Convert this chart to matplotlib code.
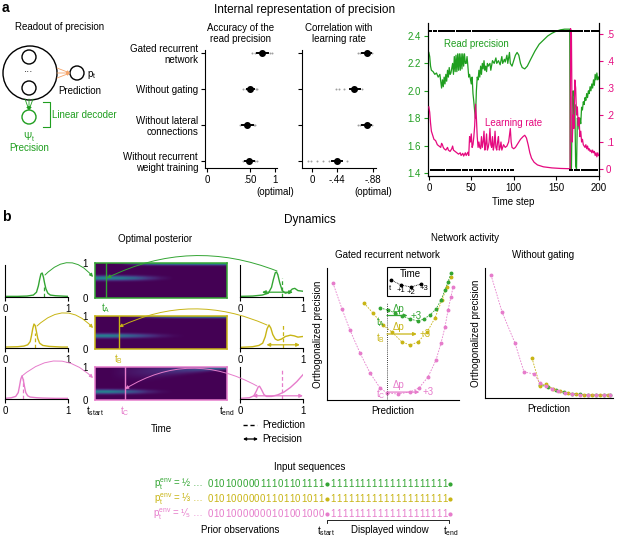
import numpy as np
import matplotlib
matplotlib.use("Agg")
import matplotlib.pyplot as plt
from matplotlib.patches import Circle, FancyArrowPatch, Rectangle

plt.rcParams["font.family"] = ["Liberation Sans", "DejaVu Sans"]
plt.rcParams["font.size"] = 7
plt.rcParams["axes.linewidth"] = 0.8
plt.rcParams["xtick.major.size"] = 3
plt.rcParams["ytick.major.size"] = 3
plt.rcParams["xtick.major.pad"] = 2
plt.rcParams["ytick.major.pad"] = 2
plt.rcParams["mathtext.default"] = "regular"

W, H = 617, 537
GREEN = "#1f9e1f"
PINK = "#e5097f"
B_GREEN = "#33a533"
B_YELLOW = "#c8b515"
B_PINK = "#e67ccb"
ORANGE = "#f4a46a"
GRAY = "#a0a0a0"

# ==========================================================================
#  Data: panel a
# ==========================================================================

MODELS = ["Gated recurrent\nnetwork", "Without gating",
          "Without lateral\nconnections", "Without recurrent\nweight training"]
acc_mean = [0.74, 0.50, 0.465, 0.49]
acc_lo = [0.64, 0.465, 0.41, 0.44]
acc_hi = [0.86, 0.58, 0.56, 0.58]
acc_dots = [[0.54, 0.60, 0.90, 0.94], [0.42, 0.45, 0.62, 0.64],
            [0.38, 0.44, 0.58, 0.60], [0.42, 0.46, 0.60, 0.64]]
corr_mean = [-0.81, -0.65, -0.81, -0.44]
corr_lo = [-0.75, -0.60, -0.75, -0.35]
corr_hi = [-0.85, -0.72, -0.85, -0.50]
corr_dots = [[-0.70, -0.72, -0.87], [-0.42, -0.46, -0.52, -0.74],
             [-0.70, -0.72, -0.87], [0.07, 0.02, -0.08, -0.2, -0.3, -0.56]]

read_prec = [(0, 2.28), (1, 2.25), (2, 2.18), (3, 2.15), (5, 2.14), (7, 2.12), (9, 2.13),
             (11, 2.10), (13, 2.12), (15, 2.02), (16, 2.08), (17, 2.03), (18, 2.10),
             (19, 2.05), (20, 2.12), (21, 2.07), (22, 2.15), (23, 2.10), (24, 2.17),
             (25, 2.12), (26, 2.13), (28, 2.20), (29, 2.12), (30, 2.25), (31, 2.14),
             (32, 2.26), (33, 2.14), (34, 2.27), (35, 2.15), (36, 2.27), (37, 2.15),
             (38, 2.27), (39, 2.16), (40, 2.27), (41, 2.18), (42, 2.27), (43, 2.20),
             (44, 2.20), (45, 2.25), (46, 2.18), (47, 2.10), (48, 2.12), (50, 2.05),
             (51, 2.10), (52, 1.98), (53, 1.92), (54, 1.85), (55, 1.80), (56, 2.00),
             (57, 2.10), (58, 2.08), (59, 2.15), (60, 2.10), (61, 2.18), (62, 2.12),
             (63, 2.20), (64, 2.16), (65, 2.22), (66, 2.15), (67, 2.18), (68, 2.14),
             (69, 2.20), (70, 2.18), (72, 2.20), (73, 2.15), (75, 2.22), (77, 2.20),
             (79, 2.24), (80, 2.20), (82, 2.22), (84, 2.19), (86, 2.25), (87, 2.20),
             (89, 2.23), (90, 2.21), (92, 2.26), (93, 2.20), (95, 2.28), (96, 2.20),
             (98, 2.18), (100, 2.22), (102, 2.26), (104, 2.28), (106, 2.26), (108, 2.20),
             (110, 2.17), (113, 2.16), (116, 2.18), (120, 2.23), (125, 2.29), (130, 2.34),
             (135, 2.37), (140, 2.40), (145, 2.42), (150, 2.435), (155, 2.445),
             (160, 2.45), (166, 2.45), (166.5, 1.43), (168, 1.43), (169, 1.95),
             (170, 2.00), (171, 1.75), (172, 1.90), (173, 1.45), (174, 1.43), (175, 1.80),
             (176, 1.78), (177, 1.72), (178, 1.80), (179, 1.76), (180, 1.88), (181, 1.86),
             (182, 1.92), (183, 1.90), (184, 1.95), (185, 1.93), (186, 1.98), (187, 1.95),
             (188, 2.00), (189, 1.98), (190, 2.03), (191, 2.00), (192, 2.05), (193, 2.02),
             (194, 2.08), (195, 2.04), (196, 2.12), (197, 2.08), (198, 2.13), (199, 2.08),
             (200, 2.10)]

learn_rate = [(0, 0.23), (1, 0.21), (2, 0.17), (3, 0.14), (4, 0.13), (5, 0.12), (6, 0.11),
              (8, 0.105), (10, 0.09), (12, 0.085), (14, 0.08), (15, 0.095), (16, 0.09),
              (17, 0.08), (18, 0.075), (20, 0.07), (22, 0.08), (23, 0.07), (25, 0.065),
              (27, 0.075), (28, 0.085), (29, 0.07), (31, 0.065), (33, 0.06), (35, 0.055),
              (37, 0.06), (38, 0.05), (40, 0.058), (41, 0.048), (43, 0.06), (44, 0.05),
              (46, 0.062), (47, 0.05), (48, 0.12), (49, 0.10), (50, 0.13), (51, 0.08),
              (52, 0.09), (53, 0.12), (54, 0.16), (55, 0.24), (56, 0.19), (57, 0.12),
              (58, 0.08), (59, 0.10), (60, 0.08), (61, 0.075), (62, 0.12), (63, 0.08),
              (64, 0.10), (65, 0.14), (66, 0.07), (67, 0.09), (68, 0.13), (69, 0.07),
              (70, 0.08), (71, 0.10), (72, 0.15), (73, 0.09), (74, 0.08), (75, 0.12),
              (76, 0.07), (77, 0.09), (78, 0.14), (79, 0.08), (80, 0.07), (81, 0.10),
              (82, 0.12), (83, 0.07), (84, 0.08), (85, 0.10), (86, 0.07), (88, 0.09),
              (90, 0.08), (92, 0.085), (94, 0.10), (96, 0.15), (97, 0.10), (98, 0.08),
              (100, 0.075), (102, 0.08), (105, 0.095), (108, 0.11), (111, 0.12),
              (113, 0.125), (115, 0.115), (117, 0.09), (119, 0.06), (121, 0.04),
              (124, 0.025), (128, 0.015), (135, 0.008), (145, 0.004), (155, 0.002),
              (166, 0.001), (166.5, 0.0), (167, 0.52), (168, 0.50), (169, 0.10),
              (170, 0.20), (171, 0.15), (172, 0.33), (173, 0.30), (174, 0.20), (175, 0.23),
              (176, 0.16), (177, 0.19), (178, 0.12), (179, 0.14), (180, 0.10), (181, 0.11),
              (182, 0.09), (183, 0.085), (184, 0.08), (185, 0.09), (186, 0.075),
              (187, 0.085), (188, 0.07), (189, 0.075), (190, 0.065), (191, 0.07),
              (192, 0.06), (193, 0.07), (194, 0.06), (195, 0.065), (196, 0.05),
              (197, 0.06), (198, 0.045), (199, 0.06), (200, 0.05)]

observations = ("1101001011" "0010100101" "1010010110" "1001010011" "0100101101" "0011010010"
                "1101101011" "1011011101" "1010110111" "0110111010"
                "1111111111" "1111111111" "1111111111" "1111111111" "1111111111"
                "1111111111" "111111"
                "0010110100" "1011010010" "1101001011" "0101")

# ==========================================================================
#  Data: panel b
# ==========================================================================

ROW_COLORS = [B_GREEN, B_YELLOW, B_PINK]
T_MARK = [0.083, 0.18, 0.227]
T_NAMES = ["A", "B", "C"]

left_post = [
    ([0, .2, .35, .45, .5, .53, .55, .57, .59, .61, .63, .65, .68, .72, .8, .9, 1],
     [.02, .02, .03, .06, .15, .35, .55, .72, .75, .62, .42, .25, .12, .06, .04, .03, .02]),
    ([0, .2, .3, .36, .4, .42, .44, .46, .48, .5, .52, .55, .6, .7, .8, .9, 1],
     [.03, .04, .06, .1, .2, .38, .6, .75, .7, .5, .3, .15, .08, .05, .04, .03, .03]),
    ([0, .1, .17, .21, .23, .25, .27, .29, .31, .33, .36, .4, .5, .6, .8, 1],
     [.02, .04, .08, .2, .4, .62, .72, .6, .38, .2, .1, .06, .04, .03, .02, .02]),
]
left_pred = [0.62, 0.48, 0.28]
left_pred_top = [0.34, 0.47, 0.62]

right_post = [
    ([0, .2, .35, .45, .5, .53, .56, .58, .6, .63, .67, .72, .78, .83, .87, .92, 1],
     [.02, .03, .06, .12, .3, .55, .76, .78, .7, .45, .2, .12, .15, .25, .27, .2, .18]),
    ([0, .2, .3, .36, .4, .43, .46, .49, .52, .56, .6, .66, .72, .8, .86, .92, 1],
     [.02, .04, .08, .15, .35, .6, .72, .62, .42, .28, .24, .28, .36, .4, .38, .34, .36]),
    ([0, .15, .22, .26, .29, .31, .34, .38, .42, .5, .6, .7, .8, .9, 1],
     [.02, .04, .1, .25, .38, .4, .3, .14, .08, .08, .13, .22, .36, .54, .76]),
]
right_pred = [0.67, 0.68, 0.67]
right_pred_top = [0.6, 0.72, 0.9]
right_prec = [(0.35, 0.84, 0.15), (0.42, 0.95, 0.10), (0.20, 1.0, 0.10)]

# posterior heat maps: knots along the displayed window
t_knots = [0, .1, .2, .3, .4, .5, .6, .7, .8, .9, 1.0]
band_mu = [0.57, 0.40, 0.25]
band_amp = [[.46, .46, .42, .32, .16, .05, 0, 0, 0, 0, 0],
            [.44, .44, .38, .28, .17, .07, .02, 0, 0, 0, 0],
            [.44, .44, .36, .24, .1, .03, 0, 0, 0, 0, 0]]
top_amp = [[0, 0, .04, .2, .4, .48, .5, .52, .54, .56, .6],
           [0, 0, 0, .08, .2, .32, .42, .47, .5, .52, .54],
           [0, 0, .03, .06, .09, .12, .15, .19, .25, .33, .42]]
top_mu = [[1.0] * 11, [1.0] * 11,
          [.85, .85, .86, .87, .88, .9, .92, .94, .96, .98, 1.0]]
top_sd = [[.035] * 11, [.035] * 11,
          [.16, .16, .16, .15, .14, .12, .1, .08, .065, .05, .04]]

# network activity (orthogonalized coordinates)
gated_curves = {
    B_PINK: ([.045, .114, .174, .25, .326, .402, .455, .538, .629, .697, .765, .826,
              .864, .894, .917, .939, .955],
             [.886, .689, .530, .356, .205, .091, .053, .045, .061, .091, .174, .303,
              .432, .553, .682, .780, .856]),
    B_YELLOW: ([.28, .348, .424, .492, .568, .629, .689, .758, .818, .871, .909, .939],
               [.735, .659, .568, .515, .439, .417, .439, .515, .621, .758, .856, .932]),
    B_GREEN: ([.402, .462, .515, .568, .629, .689, .735, .78, .826, .864, .894, .917, .939],
              [.697, .682, .659, .636, .614, .598, .614, .644, .689, .758, .833, .894, .962]),
}
nogate_curves = {
    B_PINK: ([.047, .133, .234, .305, .383, .43, .477, .523, .57, .625, .68, .742, .805,
              .867, .93, .977],
             [.946, .662, .423, .2, .185, .115, .092, .069, .054, .038, .031, .023, .023,
              .023, .023, .023]),
    B_YELLOW: ([.367, .43, .477, .531, .586, .648, .711, .773, .836, .898, .961],
               [.308, .092, .108, .069, .054, .038, .031, .025, .023, .023, .023]),
    B_GREEN: ([.43, .492, .555, .617, .68, .742, .805, .867, .93, .977],
              [.10, .085, .062, .045, .033, .027, .023, .023, .023, .023]),
}

SEQ_LABELS = ["½", "⅓", "¹⁄₅"]
SEQ_PRIOR = ["01010000011101101111", "01010000001101101011", "01010000000101001000"]
SEQ_WINDOW = ["11111111111111111111", "11111111111111111111", "11111111111111111111"]


# ==========================================================================
#  helpers
# ==========================================================================

fig = plt.figure(figsize=(W / 100, H / 100), dpi=100)


def axes_px(x0, y0, x1, y1, **kw):
    return fig.add_axes([x0 / W, 1 - y1 / H, (x1 - x0) / W, (y1 - y0) / H], **kw)


def clean(ax, keep=("left", "bottom")):
    for s in ["left", "right", "top", "bottom"]:
        ax.spines[s].set_visible(s in keep)


def acc_fwd(v):
    v = np.asarray(v, float)
    return np.where(v < 0.5, v * 86.0, 43.0 + (v - 0.5) * 50.0)


def acc_inv(p):
    p = np.asarray(p, float)
    return np.where(p < 43.0, p / 86.0, 0.5 + (p - 43.0) / 50.0)


def corr_fwd(v):
    v = np.asarray(v, float)
    return np.where(v > -0.44, -v * 25 / 0.44, 25 + (-v - 0.44) * 36 / 0.44)


def corr_inv(p):
    p = np.asarray(p, float)
    return np.where(p < 25, -p * 0.44 / 25, -0.44 - (p - 25) * 0.44 / 36)


# ==========================================================================
#  panel a: accuracy / correlation
# ==========================================================================

rows_y = [3, 2, 1, 0]

ax_acc = axes_px(205, 50, 277, 168)
ax_acc.set_xscale("function", functions=(acc_fwd, acc_inv))
for y, m, lo, hi, dots in zip(rows_y, acc_mean, acc_lo, acc_hi, acc_dots):
    ax_acc.scatter(dots, [y] * len(dots), s=2, color=GRAY, lw=0, zorder=2)
    ax_acc.plot([lo, hi], [y, y], color="k", lw=1.4, zorder=3)
    ax_acc.plot([m], [y], "o", color="k", ms=4, zorder=4)
ax_acc.set_xlim(-0.023, 1.04)
ax_acc.set_ylim(-0.2, 3.08)
ax_acc.set_xticks([0, 0.5, 1])
ax_acc.set_xticklabels(["0", ".50", "1\n(optimal)"])
ax_acc.set_yticks(rows_y)
ax_acc.set_yticklabels(MODELS, ha="right", linespacing=1.1)
ax_acc.minorticks_off()
clean(ax_acc)
ax_acc.set_title("Accuracy of the\nread precision", fontsize=7, pad=6, linespacing=1.1)

ax_cor = axes_px(302, 50, 376, 168)
ax_cor.set_xscale("function", functions=(corr_fwd, corr_inv))
for y, m, lo, hi, dots in zip(rows_y, corr_mean, corr_lo, corr_hi, corr_dots):
    ax_cor.scatter(dots, [y] * len(dots), s=2, color=GRAY, lw=0, zorder=2)
    ax_cor.plot([lo, hi], [y, y], color="k", lw=1.4, zorder=3)
    ax_cor.plot([m], [y], "o", color="k", ms=4, zorder=4)
ax_cor.set_xlim(-0.917, 0.176)
ax_cor.set_ylim(-0.2, 3.08)
ax_cor.set_xticks([0, -0.44, -0.88])
ax_cor.set_xticklabels(["0", "-.44", "-.88\n(optimal)"])
ax_cor.set_yticks(rows_y)
ax_cor.set_yticklabels([])
ax_cor.minorticks_off()
clean(ax_cor)
ax_cor.set_title("Correlation with\nlearning rate", fontsize=7, pad=6, linespacing=1.1)

# ==========================================================================
#  panel a: time series
# ==========================================================================

ax_ts = axes_px(428, 23, 599, 176)
t_p, v_p = np.array(read_prec).T
ax_ts.plot(t_p, v_p, color=GREEN, lw=0.9, zorder=2)
ax_ts.set_xlim(-1, 200.5)
ax_ts.set_ylim(1.378, 2.495)
ax_ts.set_yticks([1.4, 1.6, 1.8, 2.0, 2.2, 2.4])
ax_ts.tick_params(axis="y", colors=GREEN)
ax_ts.spines["left"].set_color("k")
ax_ts.set_xticks([0, 50, 100, 150, 200])
ax_ts.set_xlabel("Time step", labelpad=3)
ax_ts.text(56, 2.34, "Read precision", color=GREEN, ha="center", va="center")
ax_ts.spines["top"].set_visible(False)

ax_lr = ax_ts.twinx()
t_l, v_l = np.array(learn_rate).T
ax_lr.plot(t_l, v_l, color=PINK, lw=0.9, zorder=3)
obs = np.array([int(c) for c in observations])
t_obs = np.arange(len(obs))
ax_lr.scatter(t_obs, obs * 0.515 - 0.004, marker="s", s=1.6, color="k", lw=0, zorder=4)
ax_lr.set_ylim(-0.026, 0.541)
ax_lr.set_yticks([0, 0.1, 0.2, 0.3, 0.4, 0.5])
ax_lr.set_yticklabels(["0", ".1", ".2", ".3", ".4", ".5"])
ax_lr.tick_params(axis="y", colors=PINK)
ax_lr.spines["right"].set_color("k")
ax_lr.spines["top"].set_visible(False)
ax_lr.text(100, 0.17, "Learning rate", color=PINK, ha="center", va="center")

# ==========================================================================
#  panel b: posteriors
# ==========================================================================

dens_L = [(5, 265, 68, 297), (5, 316, 68, 348), (5, 367, 68, 399)]
heat_px = [(95, 263, 227, 298), (95, 316, 227, 349), (95, 367, 227, 400)]
dens_R = [(240, 265, 303, 297), (240, 316, 303, 348), (240, 367, 303, 399)]

tg = np.linspace(0, 1, 160)
yg = np.linspace(0, 1, 80)
for i, col in enumerate(ROW_COLORS):
    # left: posterior before the window
    axl = axes_px(*dens_L[i])
    xs, ys = left_post[i]
    axl.plot(xs, ys, color=col, lw=1.0)
    axl.plot([left_pred[i]] * 2, [0, left_pred_top[i]], color=col, lw=0.9, ls=(0, (3, 2)))
    axl.set_xlim(0, 1)
    axl.set_ylim(0, 1)
    axl.set_xticks([0, 1])
    axl.set_yticks([])
    clean(axl)

    # right: posterior at the marked time
    axr = axes_px(*dens_R[i])
    xs, ys = right_post[i]
    axr.plot(xs, ys, color=col, lw=1.0)
    axr.plot([right_pred[i]] * 2, [0, right_pred_top[i]], color=col, lw=0.9, ls=(0, (3, 2)))
    x0, x1, yy = right_prec[i]
    axr.annotate("", xy=(x1, yy), xytext=(x0, yy),
                 arrowprops=dict(arrowstyle="<|-|>", color=col, lw=0.9, mutation_scale=5,
                                 shrinkA=0, shrinkB=0))
    axr.set_xlim(0, 1)
    axr.set_ylim(0, 1)
    axr.set_xticks([0, 1])
    axr.set_yticks([])
    clean(axr)

    # heat map
    axh = axes_px(*heat_px[i])
    b_amp = np.interp(tg, t_knots, band_amp[i])
    t_amp = np.interp(tg, t_knots, top_amp[i])
    t_mu = np.interp(tg, t_knots, top_mu[i])
    t_sd = np.interp(tg, t_knots, top_sd[i])
    img = (b_amp[None, :] * np.exp(-(yg[:, None] - band_mu[i]) ** 2 / (2 * 0.045 ** 2))
           + t_amp[None, :] * np.exp(-(yg[:, None] - t_mu[None, :]) ** 2 / (2 * t_sd[None, :] ** 2)))
    axh.imshow(img, origin="lower", extent=(0, 1, 0, 1), aspect="auto",
               cmap="viridis", vmin=0, vmax=1, interpolation="bilinear")
    axh.axvline(T_MARK[i], color=col, lw=1.0)
    axh.set_xlim(0, 1)
    axh.set_ylim(0, 1)
    axh.set_yticks([0, 1])
    axh.tick_params(axis="y", length=0, pad=5)
    for s in axh.spines.values():
        s.set_color(col)
        s.set_linewidth(1.1)
    if i < 2:
        axh.set_xticks([T_MARK[i]])
        axh.set_xticklabels([f"t$_{T_NAMES[i]}$"], color=col)
        axh.tick_params(axis="x", length=0, pad=2)
    else:
        axh.set_xticks([0, T_MARK[i], 1])
        axh.set_xticklabels(["t$_{start}$", "t$_C$", "t$_{end}$"])
        axh.get_xticklabels()[1].set_color(col)
        axh.tick_params(axis="x", length=0, pad=3)
        axh.set_xlabel("Time", labelpad=4)

# ==========================================================================
#  panel b: network activity
# ==========================================================================

ax_g = axes_px(327, 268, 459, 400)
for col, (xs, ys) in gated_curves.items():
    ax_g.plot(xs, ys, color=col, lw=0.6, ls=(0, (2, 1.5)), marker="o", ms=1.8)
ax_g.plot([0.455, 0.455], [0, 0.735], color="k", lw=0.6, ls=(0, (1, 1.5)))
dp_rows = [(B_GREEN, 0.64, 0.61, "A", 0.59), (B_YELLOW, 0.50, 0.68, "B", 0.47),
           (B_PINK, 0.06, 0.70, "C", 0.045)]
for col, yy, xe, nm, ylab in dp_rows:
    ax_g.annotate("", xy=(xe, yy), xytext=(0.455, yy),
                  arrowprops=dict(arrowstyle="-|>", color=col, lw=0.9, mutation_scale=5,
                                  shrinkA=0, shrinkB=0))
    ax_g.text(0.54, yy + 0.015, "Δp", color=col, ha="center", va="bottom", fontsize=7)
    ax_g.text(xe + 0.02, yy, "+3", color=col, ha="left", va="center", fontsize=7)
    ax_g.text(0.44, ylab, f"t$_{nm}$", color=col, ha="right", va="center", fontsize=7)
ax_g.set_xlim(0, 1)
ax_g.set_ylim(0, 1)
ax_g.set_xticks([])
ax_g.set_yticks([])
clean(ax_g)
ax_g.set_xlabel("Prediction", labelpad=4)
ax_g.set_ylabel("Orthogonalized precision", labelpad=3)

ax_n = axes_px(485, 268, 613, 398)
for col in (B_GREEN, B_YELLOW, B_PINK):
    xs, ys = nogate_curves[col]
    ax_n.plot(xs, ys, color=col, lw=0.6, ls=(0, (2, 1.5)), marker="o", ms=1.8)
ax_n.set_xlim(0, 1)
ax_n.set_ylim(0, 1)
ax_n.set_xticks([])
ax_n.set_yticks([])
clean(ax_n)
ax_n.set_xlabel("Prediction", labelpad=4)
ax_n.set_ylabel("Orthogonalized precision", labelpad=3)

# ==========================================================================
#  overlay: diagram, arrows, titles, sequences
# ==========================================================================

ov = fig.add_axes([0, 0, 1, 1], zorder=10)
ov.set_xlim(0, W)
ov.set_ylim(H, 0)
ov.axis("off")
ov.patch.set_alpha(0)


def arrow(p0, p1, color, rad=0.0, lw=0.7, style="-|>", ms=5):
    ov.add_patch(FancyArrowPatch(p0, p1, connectionstyle=f"arc3,rad={rad}",
                                 arrowstyle=style, mutation_scale=ms, lw=lw, color=color,
                                 shrinkA=0, shrinkB=0))


# panel letters and titles
ov.text(2, 8, "a", fontsize=10, fontweight="bold", va="center")
ov.text(2, 217, "b", fontsize=10, fontweight="bold", va="center")
ov.text(305, 10, "Internal representation of precision", fontsize=8.5, ha="center", va="center")
ov.text(310, 220, "Dynamics", fontsize=8.5, ha="center", va="center")
ov.text(60, 27, "Readout of precision", ha="center", va="center")
ov.text(155, 239, "Optimal posterior", ha="center", va="center")
ov.text(465, 238, "Network activity", ha="center", va="center")
ov.text(387, 255, "Gated recurrent network", ha="center", va="center")
ov.text(543, 255, "Without gating", ha="center", va="center")

# readout diagram
ov.add_patch(Circle((30, 73), 27, fill=False, lw=1.0, ec="k"))
ov.add_patch(Circle((29, 57), 7, fill=False, lw=1.0, ec="k"))
ov.add_patch(Circle((29, 88), 7, fill=False, lw=1.0, ec="k"))
ov.text(29, 72, "···", ha="center", va="center", fontsize=7)
ov.add_patch(Circle((77, 73), 7, fill=False, lw=1.0, ec="k"))
ov.text(87, 75, "p$_t$", ha="left", va="center")
ov.text(80, 91, "Prediction", ha="center", va="center")
for yo in (68, 73, 78):
    arrow((57, yo), (70, 73), ORANGE, lw=0.6, ms=4)
ov.add_patch(Circle((29, 117), 7, fill=False, lw=1.0, ec=GREEN))
for xo in (25, 29, 33):
    arrow((xo, 99), (29, 110), GREEN, lw=0.6, ms=4)
ov.plot([43, 50, 50, 43], [102, 102, 127, 127], color=GREEN, lw=0.8)
ov.text(52, 115, "Linear decoder", color=GREEN, ha="left", va="center")
ov.text(29, 137, "Ψ$_t$", color=GREEN, ha="center", va="center")
ov.text(29, 148, "Precision", color=GREEN, ha="center", va="center")

# curved arrows from posteriors to heat maps
arrow((45, 275), (93, 277), B_GREEN, rad=-0.55)
arrow((277, 271), (107, 278), B_GREEN, rad=0.22)
arrow((37, 326), (93, 328), B_YELLOW, rad=-0.5)
arrow((267, 325), (119, 327), B_YELLOW, rad=0.23)
arrow((22, 376), (93, 378), B_PINK, rad=-0.45)
arrow((257, 386), (125, 389), B_PINK, rad=0.29)

# legend of b
ov.plot([243, 257], [425, 425], color="k", lw=1.0, ls=(0, (3, 2)))
ov.text(262, 425, "Prediction", ha="left", va="center")
arrow((243, 439), (258, 439), "k", lw=0.9, style="<|-|>", ms=4)
ov.text(262, 439, "Precision", ha="left", va="center")

# time inset
ov.add_patch(Rectangle((387, 267), 43, 29, fill=True, fc="white", ec="k", lw=0.8, zorder=5))
ov.text(410, 274, "Time", ha="center", va="center", zorder=6)
ov.plot([391, 401, 411, 421], [280, 285, 287, 284], color="k", lw=0.6, ls=(0, (1, 1)),
        marker="o", ms=1.8, zorder=6)
arrow((421, 284), (429, 271), "k", lw=0.6, ms=4)
ov.text(390, 288, "t", fontsize=5.5, ha="center", va="center", zorder=6)
ov.text(401, 291, "+1", fontsize=5.5, ha="center", va="center", zorder=6)
ov.text(411, 293, "+2", fontsize=5.5, ha="center", va="center", zorder=6)
ov.text(424, 289, "+3", fontsize=5.5, ha="center", va="center", zorder=6)

# input sequences
ov.text(310, 467, "Input sequences", ha="center", va="center")
seq_y = [484, 499, 514]
for col, lab, pre, win, y in zip(ROW_COLORS, SEQ_LABELS, SEQ_PRIOR, SEQ_WINDOW, seq_y):
    ov.text(203, y, f"p$_t^{{env}}$ = {lab} …", color=col, ha="right", va="center")
    for j, ch in enumerate(pre):
        ov.text(210 + j * 5.85, y, ch, color=col, ha="center", va="center")
    ov.plot([327], [y], "o", color=col, ms=2)
    for j, ch in enumerate(win):
        ov.text(333 + j * 5.9, y, ch, color=col, ha="center", va="center")
    ov.plot([450], [y], "o", color=col, ms=2)
ov.plot([327, 327, 449, 449], [523, 520, 520, 523], color="k", lw=0.6)
ov.text(240, 530, "Prior observations", ha="center", va="center")
ov.text(326, 531, "t$_{start}$", ha="center", va="center")
ov.text(390, 530, "Displayed window", ha="center", va="center")
ov.text(451, 531, "t$_{end}$", ha="center", va="center")

fig.savefig("out.png", dpi=100)
